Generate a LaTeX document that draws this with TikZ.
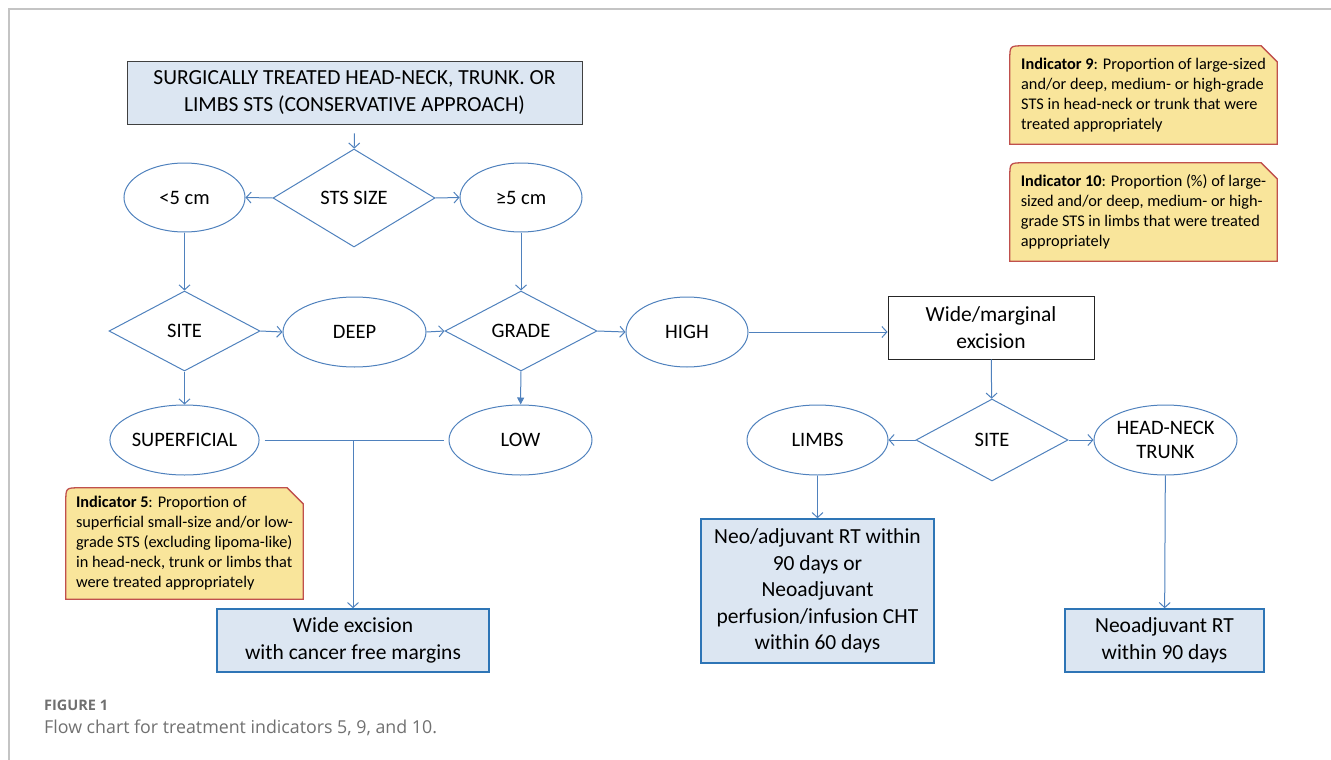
\documentclass[tikz,border=0pt]{standalone}
\usepackage{fontspec}
\setmainfont{Carlito}
\newfontfamily\capfont{Open Sans}
\usetikzlibrary{shapes.geometric}
\usetikzlibrary{arrows.meta}
\usetikzlibrary{backgrounds}
\usepackage{xcolor}
\definecolor{flowblue}{RGB}{79,129,189}
\definecolor{boxfill}{RGB}{220,230,242}
\definecolor{boxline}{RGB}{46,117,182}
\definecolor{notefill}{RGB}{249,229,155}
\definecolor{noteline}{RGB}{192,80,77}
\definecolor{capgray}{RGB}{112,112,112}
\definecolor{framegray}{RGB}{196,196,196}

\begin{document}
\begin{tikzpicture}[x=1pt, y=-1pt,
  oval/.style={ellipse, draw=flowblue, line width=1pt, inner sep=0pt, align=center, font=\fontsize{20.5}{24}\selectfont},
  choice/.style={diamond, draw=flowblue, line width=1pt, inner sep=0pt, font=\fontsize{20.5}{24}\selectfont},
  endbox/.style={rectangle, draw=boxline, fill=boxfill, line width=1.6pt, align=center, font=\fontsize{21.5}{26.5}\selectfont},
  note/.style={inner sep=0pt, minimum width=#1, align=left, font=\fontsize{16.3}{20}\selectfont},
  notebg/.style={draw=noteline, fill=notefill, line width=1.3pt},
  flow/.style={draw=flowblue, line width=1pt, -{Straight Barb[length=5pt,width=11pt]}},
  link/.style={draw=flowblue, line width=1pt}
]
\useasboundingbox (0,0) rectangle (1331,760);
\draw[framegray, line width=1.5pt] (9,760) -- (9,9) -- (1331,9);

\node[draw=black!75, fill=boxfill, line width=0.9pt, minimum width=455pt, minimum height=63pt, align=center, font=\fontsize{21.5}{27}\selectfont] (top) at (354.5,92.5) {SURGICALLY TREATED HEAD-NECK, TRUNK. OR\\LIMBS STS (CONSERVATIVE APPROACH)};
\node[choice, minimum width=162pt, minimum height=98pt] (size) at (354,198) {STS SIZE};
\node[oval, minimum width=121pt, minimum height=69pt] (lt5) at (184.5,197.5) {<5 cm};
\node[oval, minimum width=122pt, minimum height=69pt] (ge5) at (521,197.5) {≥5 cm};
\node[choice, minimum width=151pt, minimum height=80pt] (site) at (184.5,331) {SITE};
\node[oval, minimum width=143pt, minimum height=70pt] (deep) at (354.5,332) {DEEP};
\node[choice, minimum width=152pt, minimum height=80pt] (grade) at (521,331) {GRADE};
\node[oval, minimum width=122pt, minimum height=70pt] (high) at (687,332) {HIGH};
\node[draw=black!85, line width=0.9pt, minimum width=206pt, minimum height=63pt, align=center, font=\fontsize{21.5}{27}\selectfont] (wm) at (991,327.5) {Wide/marginal\\excision};
\node[oval, minimum width=143pt, minimum height=70pt] (sup) at (184.5,440) {SUPERFICIAL};
\node[oval, minimum width=143pt, minimum height=70pt] (low) at (520.5,440) {LOW};
\node[choice, minimum width=152pt, minimum height=82pt] (site2) at (992,440) {SITE};
\node[oval, minimum width=141pt, minimum height=70pt] (limbs) at (817.5,440) {LIMBS};
\node[oval, minimum width=143pt, minimum height=70pt] (hn) at (1165.5,440) {HEAD-NECK\\TRUNK};
\node[endbox, minimum width=272pt, minimum height=63pt] (wide) at (353,640.5) {Wide excision\\with cancer free margins};
\node[endbox, minimum width=233pt, minimum height=144pt] (neo) at (817.5,591) {Neo/adjuvant RT within\\90 days or\\Neoadjuvant\\perfusion/infusion CHT\\within 60 days};
\node[endbox, minimum width=199pt, minimum height=63pt] (neort) at (1164.5,640.5) {Neoadjuvant RT\\within 90 days};

\node[note=267pt, minimum height=98pt] (ind9) at (1143.5,95) {\textbf{Indicator 9}: Proportion of large-sized\\and/or deep, medium- or high-grade\\STS in head-neck or trunk that were\\treated appropriately};
\node[note=267pt, minimum height=98pt] (ind10) at (1143.5,212) {\textbf{Indicator 10}: Proportion (\%) of large-\\sized and/or deep, medium- or high-\\grade STS in limbs that were treated\\appropriately};
\node[note=237pt, minimum height=111pt] (ind5) at (184.5,543.5) {\textbf{Indicator 5}: Proportion of\\superficial small-size and/or low-\\grade STS (excluding lipoma-like)\\in head-neck, trunk or limbs that\\were treated appropriately};
\begin{scope}[on background layer]
\foreach \n in {ind5,ind9,ind10}
  \draw[notebg] (\n.south west) -- ([yshift=-14pt]\n.north west) .. controls (\n.north west) .. ([xshift=14pt]\n.north west) -- ([xshift=-16pt]\n.north east) -- ([yshift=-16pt]\n.north east) -- (\n.south east) -- cycle;
\end{scope}

\draw[flow, shorten <=9pt] (top) -- (size);
\foreach \a/\b in {size.west/lt5.east, size.east/ge5.west, site.east/deep.west, deep.east/grade.west, grade.east/high.west, site2.west/limbs.east, site2.east/hn.west}
  \draw[flow] (\a) -- (\b);
\foreach \a/\b in {lt5/site, ge5/grade, site/sup, wm/site2, limbs/neo, hn/neort}
  \draw[flow] (\a) -- (\b);
\draw[link, -{Triangle[length=7pt,width=7pt]}] (grade) -- (low);
\draw[flow] (high.east) -- (high.east -| wm.west);
\draw[link] ([xshift=5pt]sup.east) -- ([xshift=-5pt]low.west);
\coordinate (jn) at (sup.east -| wide.north);
\draw[flow] (jn) -- (wide.north);

\node[anchor=west, inner sep=0pt, text=capgray, font=\capfont\bfseries\fontsize{14.5}{17}\selectfont] (figno) at (44,705) {FIGURE 1};
\node[anchor=west, inner sep=0pt, text=capgray, font=\capfont\fontsize{17.8}{21}\selectfont] (figcap) at (44,728) {Flow chart for treatment indicators 5, 9, and 10.};
\end{tikzpicture}
\end{document}
